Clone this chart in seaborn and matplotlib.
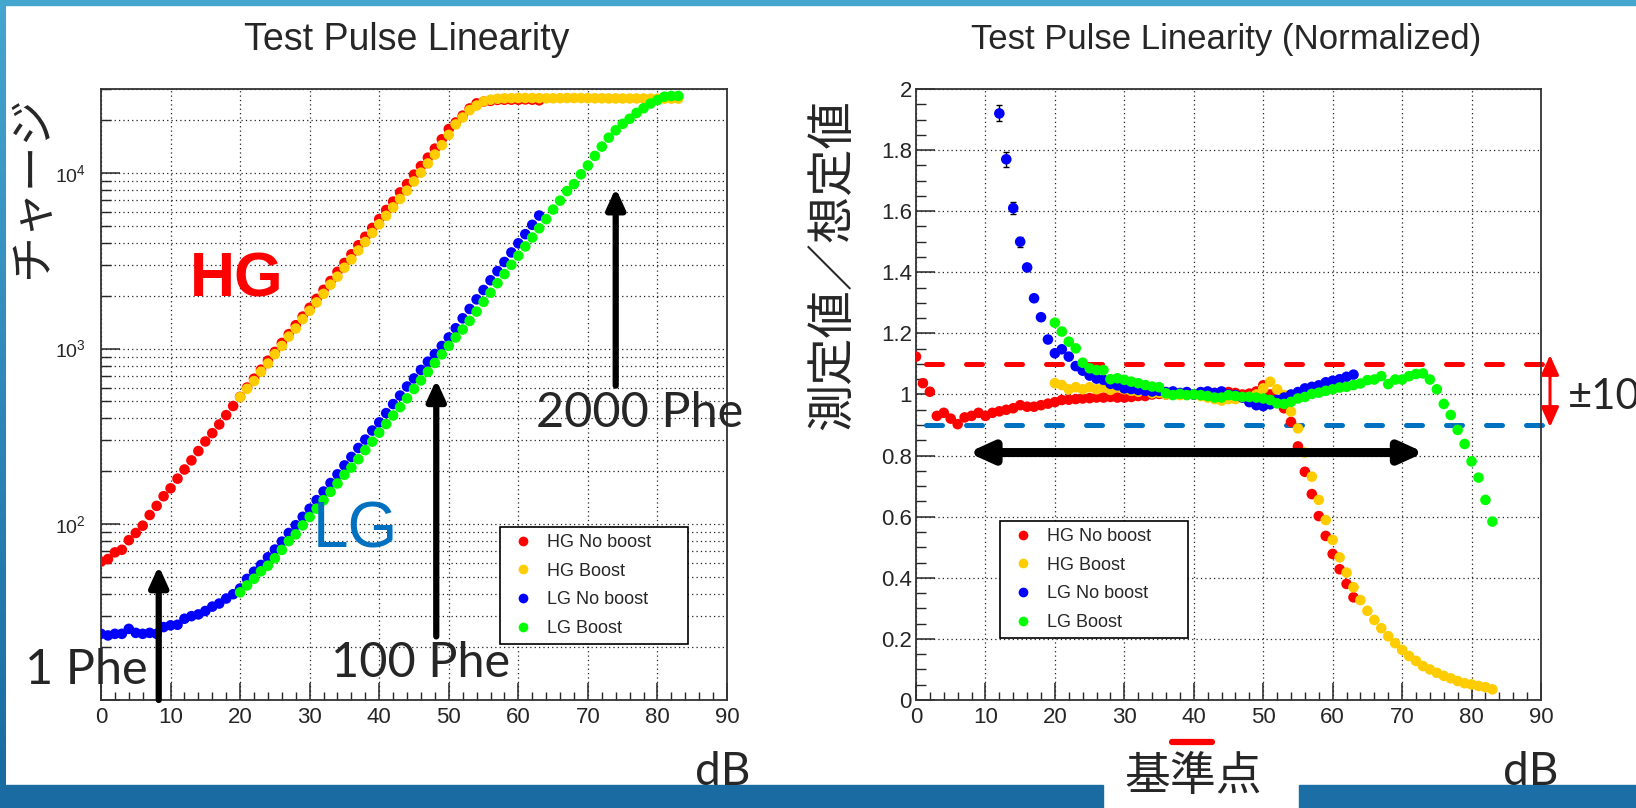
import numpy as np
import pandas as pd
import matplotlib
matplotlib.use("Agg")
import matplotlib.pyplot as plt
import matplotlib.ticker as mticker
from matplotlib.patches import Rectangle, FancyArrowPatch
from matplotlib.lines import Line2D
import seaborn as sns

W, H = 1636, 808

# ---- data ----
series_names = ["HG No boost", "HG Boost", "LG No boost", "LG Boost"]
series_colors = ["#ff0000", "#ffcc00", "#0000ff", "#00ff00"]

db_start = [0, 20, 0, 20]          # first dB step of each series (1 dB steps)
db_start_ratio = [0, 20, 12, 20]

# left panel: charge vs dB
hg_nb_charge = [61.3, 63.4, 69.2, 71.6, 81.2, 89.2, 98.2, 112.9, 127.3, 144.4,
                160.2, 181.8, 205, 231, 261, 296, 330, 370, 418, 471,
                531, 600, 674, 758, 853, 957, 1076, 1208, 1358, 1521,
                1706, 1918, 2159, 2423, 2732, 3071, 3439, 3870, 4329, 4858,
                5450, 6146, 6862, 7739, 8638, 9768, 10927, 12200, 13731, 15514,
                17750, 19337, 21154, 23249, 24857, 25435, 25689, 26003, 26061, 26087,
                26051, 26172, 26076, 25872]
hg_b_charge = [529, 590, 653, 738, 822, 929, 1035, 1169, 1300, 1471,
               1640, 1831, 2048, 2312, 2566, 2885, 3218, 3617, 4043, 4546,
               5100, 5693, 6357, 7098, 7922, 8932, 10022, 11305, 12709, 14372,
               16449, 18855, 20648, 22736, 24130, 25494, 26070, 26390, 26530, 26600,
               26650, 26650, 26650, 26600, 26550, 26550, 26600, 26650, 26650, 26650,
               26600, 26550, 26550, 26500, 26500, 26500, 26500, 26500, 26500, 26450,
               26450, 26450, 26450, 26450]
lg_nb_charge = [23.8, 23.3, 23.8, 23.8, 25.4, 24.1, 23.8, 24.1, 23.8, 26.0,
                26.6, 26.8, 29.0, 30.0, 30.7, 32.1, 34.0, 35.4, 37.8, 40.0,
                43.1, 48.9, 53.7, 58.7, 64.9, 71.8, 79.7, 89.2, 98.8, 110.3,
                122.6, 137.2, 153.6, 171.7, 192.4, 216.3, 241.7, 271.7, 303.3, 341.4,
                380, 429, 483, 540, 608, 676, 756, 842, 931, 1034,
                1156, 1305, 1486, 1680, 1905, 2154, 2446, 2757, 3109, 3522,
                3971, 4476, 5061, 5716]
lg_b_charge = [41.0, 44.9, 49.0, 54.0, 58.1, 64.1, 71.5, 80.2, 87.6, 98.6,
               110.0, 122.7, 137.1, 152.9, 170.7, 191.2, 210.3, 234.5, 264.2, 295.3,
               332, 371.8, 415.9, 464.3, 520.7, 588.8, 658.7, 737.1, 827.3, 926.6,
               1036, 1157, 1284, 1437, 1624, 1843, 2078, 2355, 2653, 2995,
               3376, 3811, 4285, 4835, 5451, 6180, 6948, 7878, 8623, 9815,
               11013, 12487, 14103, 15853, 17455, 18987, 20300, 21930, 23314, 24798,
               25929, 27119, 27377, 27388]

# right panel: measured / expected
hg_nb_ratio = [1.124, 1.037, 1.009, 0.930, 0.940, 0.921, 0.903, 0.925, 0.930, 0.940,
               0.930, 0.940, 0.945, 0.950, 0.955, 0.965, 0.960, 0.960, 0.965, 0.970,
               0.975, 0.982, 0.983, 0.985, 0.987, 0.988, 0.990, 0.990, 0.992, 0.990,
               0.990, 0.992, 0.995, 0.995, 1.000, 1.002, 1.000, 1.003, 1.000, 1.000,
               1.000, 1.005, 1.000, 1.005, 1.000, 1.008, 1.005, 1.000, 1.003, 1.010,
               1.030, 1.000, 0.975, 0.955, 0.910, 0.830, 0.747, 0.674, 0.602, 0.537,
               0.478, 0.428, 0.380, 0.336]
hg_b_ratio = [1.037, 1.031, 1.017, 1.024, 1.017, 1.024, 1.017, 1.024, 1.015, 1.024,
              1.017, 1.012, 1.009, 1.015, 1.004, 1.006, 1.000, 1.002, 0.998, 1.000,
              1.000, 0.995, 0.990, 0.985, 0.980, 0.985, 0.985, 0.990, 0.992, 1.000,
              1.020, 1.042, 1.017, 0.998, 0.944, 0.889, 0.810, 0.731, 0.655, 0.589,
              0.524, 0.467, 0.417, 0.369, 0.327, 0.292, 0.262, 0.235, 0.209, 0.186,
              0.164, 0.144, 0.128, 0.111, 0.100, 0.089, 0.079, 0.071, 0.062, 0.055,
              0.051, 0.046, 0.042, 0.035]
lg_nb_ratio = [1.920, 1.770, 1.610, 1.500, 1.416, 1.315, 1.253, 1.180,
               1.135, 1.148, 1.124, 1.093, 1.078, 1.062, 1.052, 1.048, 1.035, 1.030,
               1.020, 1.018, 1.015, 1.012, 1.010, 1.012, 1.008, 1.010, 1.005, 1.008,
               1.000, 1.008, 1.010, 1.005, 1.010, 1.000, 0.998, 0.990, 0.975, 0.965,
               0.962, 0.968, 0.982, 0.990, 1.000, 1.008, 1.020, 1.025, 1.030, 1.040,
               1.045, 1.050, 1.058, 1.065]
lg_nb_err = [0.026, 0.025, 0.020, 0.016, 0.012, 0.010, 0.008, 0.007]  # visible bars, dB 12-19
lg_b_ratio = [1.235, 1.206, 1.173, 1.151, 1.104, 1.086, 1.080, 1.080, 1.050, 1.053,
              1.048, 1.042, 1.037, 1.031, 1.026, 1.024, 1.004, 0.998, 1.002, 0.998,
              1.000, 0.998, 0.995, 0.990, 0.990, 0.998, 0.995, 0.992, 0.992, 0.990,
              0.987, 0.982, 0.971, 0.969, 0.976, 0.987, 0.992, 1.002, 1.006, 1.012,
              1.017, 1.023, 1.025, 1.031, 1.036, 1.047, 1.049, 1.060, 1.034, 1.049,
              1.049, 1.060, 1.067, 1.069, 1.049, 1.017, 0.969, 0.933, 0.884, 0.838,
              0.781, 0.728, 0.655, 0.584]

x_ticks = [0, 10, 20, 30, 40, 50, 60, 70, 80, 90]
band_hi, band_lo = 1.1, 0.9


def long_frame(values_list, starts, col):
    parts = []
    for name, vals, s in zip(series_names, values_list, starts):
        parts.append(pd.DataFrame({"dB": np.arange(s, s + len(vals)), col: vals, "series": name}))
    return pd.concat(parts, ignore_index=True)


left_df = long_frame([hg_nb_charge, hg_b_charge, lg_nb_charge, lg_b_charge], db_start, "charge")
right_df = long_frame([hg_nb_ratio, hg_b_ratio, lg_nb_ratio, lg_b_ratio], db_start_ratio, "ratio")

sns.set_style("white")
plt.rcParams["font.family"] = ["Liberation Sans", "Noto Sans CJK JP", "DejaVu Sans"]
plt.rcParams["mathtext.default"] = "regular"

fig = plt.figure(figsize=(W / 100, H / 100), dpi=100)
fig.patch.set_facecolor("white")


def fx(x):
    return x / W


def fy(y):
    return 1 - y / H


# slide decoration: blue bands
fig.patches.append(Rectangle((0, fy(5)), 1, 5 / H, transform=fig.transFigure,
                             color="#44a5ce", zorder=-5))
fig.patches.append(Rectangle((0, 0), fx(1103), 23 / H, transform=fig.transFigure,
                             color="#1a6ba1", zorder=-5))
fig.patches.append(Rectangle((fx(1299), 0), 1 - fx(1299), 23 / H, transform=fig.transFigure,
                             color="#1c6fa6", zorder=-5))
strip = fig.add_axes([0, 23 / H, 6 / W, 1 - 23 / H])
top_c = np.array([0x44, 0xa5, 0xce]) / 255
bot_c = np.array([0x1a, 0x6b, 0xa1]) / 255
grad = np.linspace(0, 1, 64)[:, None, None] * (bot_c - top_c) + top_c
strip.imshow(grad, aspect="auto")
strip.axis("off")

axL = fig.add_axes([fx(101), fy(700), 626 / W, 611 / H])
axR = fig.add_axes([fx(916), fy(700), 625 / W, 611 / H])
pal = dict(zip(series_names, series_colors))

# ---- left panel ----
sns.scatterplot(data=left_df, x="dB", y="charge", hue="series", hue_order=series_names,
                palette=pal, s=58, linewidth=0, legend=False, ax=axL, zorder=3)
axL.set_yscale("log")
axL.set_xlim(0, 90)
axL.set_ylim(10, 3e4)
axL.yaxis.set_major_locator(mticker.LogLocator(base=10, numticks=10))
axL.yaxis.set_minor_locator(mticker.LogLocator(base=10, subs=np.arange(2, 10), numticks=20))
axL.yaxis.set_major_formatter(mticker.FuncFormatter(
    lambda v, p: "$10^{%d}$" % round(np.log10(v)) if v >= 100 else ""))
axL.yaxis.set_minor_formatter(mticker.NullFormatter())
axL.grid(True, axis="y", which="both", ls=(0, (1, 2.5)), lw=0.9, color="#222222")

# ---- right panel ----
blue_err_db = np.arange(12, 12 + len(lg_nb_err))
axR.errorbar(blue_err_db, lg_nb_ratio[:len(lg_nb_err)], yerr=lg_nb_err, fmt="none",
             ecolor="black", elinewidth=1, capsize=2.5, zorder=2.5)
sns.scatterplot(data=right_df, x="dB", y="ratio", hue="series", hue_order=series_names,
                palette=pal, s=58, linewidth=0, legend=False, ax=axR, zorder=3)
axR.set_xlim(0, 90)
axR.set_ylim(0, 2)
axR.yaxis.set_major_locator(mticker.MultipleLocator(0.2))
axR.yaxis.set_minor_locator(mticker.MultipleLocator(0.05))
axR.yaxis.set_major_formatter(mticker.FuncFormatter(lambda v, p: "%g" % round(v, 2)))
axR.grid(True, axis="y", which="major", ls=(0, (1, 2.5)), lw=0.9, color="#222222")

for ax in (axL, axR):
    ax.set_xlabel("")
    ax.set_ylabel("")
    ax.set_xticks(x_ticks)
    ax.xaxis.set_minor_locator(mticker.MultipleLocator(2))
    ax.grid(True, axis="x", which="major", ls=(0, (1, 2.5)), lw=0.9, color="#222222")
    ax.tick_params(axis="x", which="major", direction="in", length=12, width=1.1,
                   labelsize=16, pad=5, top=False, bottom=True)
    ax.tick_params(axis="x", which="minor", direction="in", length=6, width=1.0,
                   top=False, bottom=True)
    ax.tick_params(axis="y", which="major", direction="in", length=14, width=1.1,
                   labelsize=16, right=False, left=True)
    ax.tick_params(axis="y", which="minor", direction="in", length=7, width=1.0,
                   right=False, left=True)
    for sp in ax.spines.values():
        sp.set_color("#333333")
        sp.set_linewidth(1.3)
    ax.set_axisbelow(True)
axL.tick_params(axis="y", which="major", pad=11, labelsize=14)
axR.tick_params(axis="y", which="major", pad=3)

# band lines +-10 %
dash_kw = dict(lw=3.6, dash_capstyle="round", clip_on=False, zorder=2)
axR.plot([1.5, 90.6], [band_hi, band_hi], color="#ff0000", dashes=(3.2, 4.8), **dash_kw)
axR.plot([1.5, 90.6], [band_lo, band_lo], color="#0070c0", dashes=(3.2, 4.8), **dash_kw)

# linear range arrow
axR.annotate("", xy=(7.5, 0.81), xytext=(73.2, 0.81),
             arrowprops=dict(arrowstyle="<|-|>,head_length=0.55,head_width=0.25",
                             mutation_scale=25, lw=6.5, color="black",
                             shrinkA=0, shrinkB=0), zorder=5)

# Phe arrows on the left panel
for xa, y0, y1 in [(8.3, 10, 58), (48.2, 23, 665), (74.0, 615, 8200)]:
    axL.annotate("", xy=(xa, y1), xytext=(xa, y0),
                 arrowprops=dict(arrowstyle="-|>,head_length=0.55,head_width=0.25",
                                 mutation_scale=22, lw=4.5, color="black",
                                 shrinkA=0, shrinkB=0),
                 annotation_clip=False, zorder=5)

# legends
handles = [Line2D([], [], ls="", marker="o", markersize=7, markeredgewidth=0, color=c)
           for c in series_colors]
for ax, (bx, by) in [(axL, (500, 527)), (axR, (1000, 521))]:
    leg = ax.legend(handles, series_names, loc="upper left",
                    bbox_to_anchor=(fx(bx), fy(by) - 115 / H, 188 / W, 115 / H),
                    bbox_transform=fig.transFigure, mode="expand", frameon=True,
                    fancybox=False, framealpha=1, edgecolor="black", fontsize=13,
                    borderpad=0.38, handlelength=1.8, handletextpad=0.4,
                    labelspacing=0.65, borderaxespad=0)
    leg.get_frame().set_linewidth(1.2)
    leg.set_zorder(6)

# titles and labels
fig.text(fx(407), fy(40), "Test Pulse Linearity", fontsize=27, ha="center", va="center")
fig.text(fx(1226), fy(40), "Test Pulse Linearity (Normalized)", fontsize=25,
         ha="center", va="center")
cjk = ["Noto Sans CJK JP", "DejaVu Sans"]
fig.text(fx(32), fy(186), "チャージ", family=cjk, fontsize=33, rotation=90,
         ha="center", va="center")
fig.text(fx(834), fy(265), "測定値／想定値", family=cjk, fontsize=34, rotation=90,
         ha="center", va="center")
thin = ["Lato", "DejaVu Sans"]
fig.text(fx(723), fy(772), "dB", family=thin, fontsize=33, ha="center", va="center")
fig.text(fx(1531), fy(772), "dB", family=thin, fontsize=33, ha="center", va="center")
fig.text(fx(1193), fy(777), "基準点", family=cjk, fontsize=33, ha="center", va="center")
fig.add_artist(Line2D([fx(1172), fx(1212)], [fy(742), fy(742)], color="#ff0000",
                      lw=4.5, solid_capstyle="round"))

fig.text(fx(237), fy(280), "HG", color="#ff0000", fontsize=45, fontweight="bold",
         ha="center", va="center")
fig.text(fx(355), fy(530), "LG", color="#0070c0", fontsize=46,
         ha="center", va="center")
fig.text(fx(86), fy(670), "1 Phe", family=thin, fontsize=35, ha="center", va="center")
fig.text(fx(421), fy(663), "100 Phe", family=thin, fontsize=35, ha="center", va="center")
fig.text(fx(640), fy(413), "2000 Phe", family=thin, fontsize=35, ha="center", va="center")

# +-10 % marker to the right of the normalized panel
fig.add_artist(FancyArrowPatch(
    (fx(1550), fy(427)), (fx(1550), fy(355)), transform=fig.transFigure,
    arrowstyle="<|-|>,head_length=1.0,head_width=0.45", mutation_scale=12,
    lw=2.2, color="#ff0000", shrinkA=0, shrinkB=0))
fig.text(fx(1568), fy(397), "±10%", family=thin, fontsize=30, ha="left", va="center")

fig.savefig("out.png", dpi=100, facecolor="white")
